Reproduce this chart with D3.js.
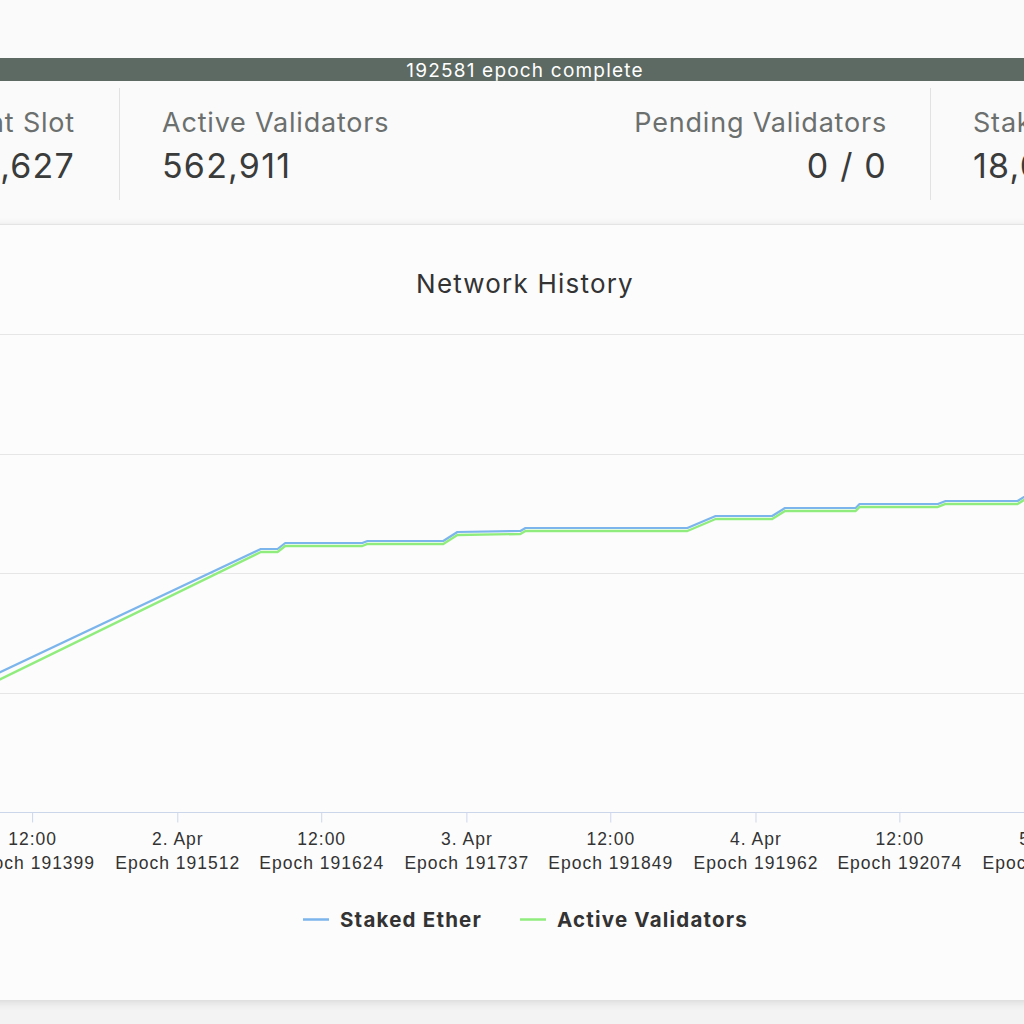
<!DOCTYPE html>
<html>
<head>
<meta charset="utf-8">
<script src="https://cdn.jsdelivr.net/npm/d3@7"></script>
<style>
  html, body { margin: 0; padding: 0; background: #fafafa; overflow: hidden; }
  svg { display: block; font-family: Inter, "Noto Sans", sans-serif; }
</style>
</head>
<body>
<svg id="c" width="1024" height="1024"></svg>
<script>
// ---------- data ----------
const epochText = "192581 epoch complete";
const statLabels = ["Current Slot", "Active Validators", "Pending Validators", "Staked Ether"];
const statValues = ["6,162,627", "562,911", "0 / 0", "18,013,152"];
const chartTitle = "Network History";
const seriesNames = ["Staked Ether", "Active Validators"];
const seriesColors = ["#7cb5ec", "#90ed7d"];

// epochs of line vertices
const stakedEpochs = [191330, 191577, 191590, 191596, 191656, 191660, 191719, 191730, 191779, 191783, 191909, 191931, 191975, 191985, 192040, 192043, 192104, 192110, 192166, 192176, 192200];
const stakedEther  = [17835650, 17936070, 17936070, 17940080, 17940080, 17941420, 17941420, 17947450, 17948120, 17950130, 17950130, 17958160, 17958160, 17963520, 17963520, 17966190, 17966190, 17968200, 17968200, 17973560, 17975560];
const validatorEpochs = [191330, 191577, 191590, 191596, 191656, 191660, 191719, 191730, 191779, 191783, 191909, 191931, 191975, 191985, 192040, 192043, 192104, 192110, 192166, 192176, 192200];
const activeValidators = [557197, 560439, 560439, 560565, 560565, 560607, 560607, 560795, 560816, 560879, 560879, 561130, 561130, 561297, 561297, 561381, 561381, 561444, 561444, 561611, 561674];

const validatorTicks = [555000, 557500, 560000, 562500, 565000];
const stakedDomain = [17760000, 18080000];
const tickEpochs = [191399, 191512, 191624, 191737, 191849, 191962, 192074, 192187];
const tickDates  = ["12:00", "2. Apr", "12:00", "3. Apr", "12:00", "4. Apr", "12:00", "5. Apr"];
const visibleEpochs = [191374, 192171];

// ---------- layout ----------
const W = 1024, H = 1024;
const svg = d3.select("#c");
const defs = svg.append("defs");
const f = defs.append("filter").attr("id", "sh").attr("x", "-10%").attr("y", "-10%").attr("width", "120%").attr("height", "130%");
f.append("feDropShadow").attr("dx", 0).attr("dy", 2).attr("stdDeviation", 4).attr("flood-color", "#000").attr("flood-opacity", 0.12);

svg.append("rect").attr("width", W).attr("height", H).attr("fill", "#f3f3f3");
svg.append("rect").attr("width", W).attr("height", 224).attr("fill", "#fafafa");
// chart card
svg.append("rect").attr("x", -20).attr("y", 224).attr("width", W + 40).attr("height", 776)
  .attr("fill", "#fcfcfc").attr("filter", "url(#sh)");
svg.append("line").attr("x1", 0).attr("x2", W).attr("y1", 224.5).attr("y2", 224.5).attr("stroke", "#e4e4e4");

// epoch bar
svg.append("rect").attr("x", 0).attr("y", 58).attr("width", W).attr("height", 23).attr("fill", "#5d6a63");
svg.append("text").attr("x", 525).attr("y", 77).attr("text-anchor", "middle")
  .attr("fill", "#fff").attr("font-size", 19).attr("letter-spacing", 1.2).text(epochText);

// stats
const statX = [75, 162, 887, 973];
const statAnchor = ["end", "start", "end", "start"];
statLabels.forEach((l, i) => {
  svg.append("text").attr("x", statX[i]).attr("y", 132).attr("text-anchor", statAnchor[i])
    .attr("fill", "#6b6f6d").attr("font-size", 27).attr("letter-spacing", 0.8).text(l);
  svg.append("text").attr("x", statX[i]).attr("y", 178).attr("text-anchor", statAnchor[i])
    .attr("fill", "#3a3c3b").attr("font-size", 34).attr("letter-spacing", 1.2).text(statValues[i]);
});
[119.5, 930.5].forEach(x => svg.append("line").attr("x1", x).attr("x2", x).attr("y1", 88).attr("y2", 200)
  .attr("stroke", "#e2e2e2"));

// title
svg.append("text").attr("x", 525).attr("y", 293).attr("text-anchor", "middle")
  .attr("fill", "#333").attr("font-size", 26).attr("letter-spacing", 1.2).text(chartTitle);

// scales
const x = d3.scaleLinear().domain(visibleEpochs).range([0, W]);
const yV = d3.scaleLinear().domain([validatorTicks[0], validatorTicks[validatorTicks.length - 1]]).range([812, 334]);
const yS = d3.scaleLinear().domain(stakedDomain).range([812, 334]);

// grid
svg.append("g").selectAll("line").data(validatorTicks.slice(1)).join("line")
  .attr("x1", 0).attr("x2", W).attr("y1", d => Math.round(yV(d)) + 0.5).attr("y2", d => Math.round(yV(d)) + 0.5)
  .attr("stroke", "#e6e6e6");

// x axis
const xAxis = d3.axisBottom(x).tickValues(tickEpochs).tickSize(10).tickFormat("");
const gx = svg.append("g").attr("transform", "translate(0,812.5)").call(xAxis);
gx.select(".domain").attr("stroke", "#ccd6eb").attr("d", `M0,0H${W}`);
gx.selectAll(".tick line").attr("stroke", "#ccd6eb");
gx.selectAll(".tick").each(function (d, i) {
  const t = d3.select(this).append("text").attr("fill", "#333").attr("font-size", 17.5)
    .attr("letter-spacing", 1.0).attr("text-anchor", "middle").attr("stroke", "none");
  t.append("tspan").attr("x", 0).attr("y", 32).text(tickDates[i]);
  t.append("tspan").attr("x", 0).attr("y", 56).text("Epoch " + tickEpochs[i]);
});

// lines
const lineS = d3.line().x((d, i) => x(stakedEpochs[i])).y(d => yS(d));
const lineV = d3.line().x((d, i) => x(validatorEpochs[i])).y(d => yV(d));
svg.append("path").datum(stakedEther).attr("d", lineS).attr("fill", "none")
  .attr("stroke", seriesColors[0]).attr("stroke-width", 2.2).attr("stroke-linejoin", "round");
svg.append("path").datum(activeValidators).attr("d", lineV).attr("fill", "none")
  .attr("stroke", seriesColors[1]).attr("stroke-width", 2.4).attr("stroke-linejoin", "round");

// legend
const legX = [303, 520];
seriesNames.forEach((n, i) => {
  svg.append("line").attr("x1", legX[i]).attr("x2", legX[i] + 26).attr("y1", 919.5).attr("y2", 919.5)
    .attr("stroke", seriesColors[i]).attr("stroke-width", 2.5);
  svg.append("text").attr("x", legX[i] + 37).attr("y", 927).attr("fill", "#333")
    .attr("font-size", 20.5).attr("font-weight", "bold").attr("letter-spacing", 1.2).text(n);
});
</script>
</body>
</html>
